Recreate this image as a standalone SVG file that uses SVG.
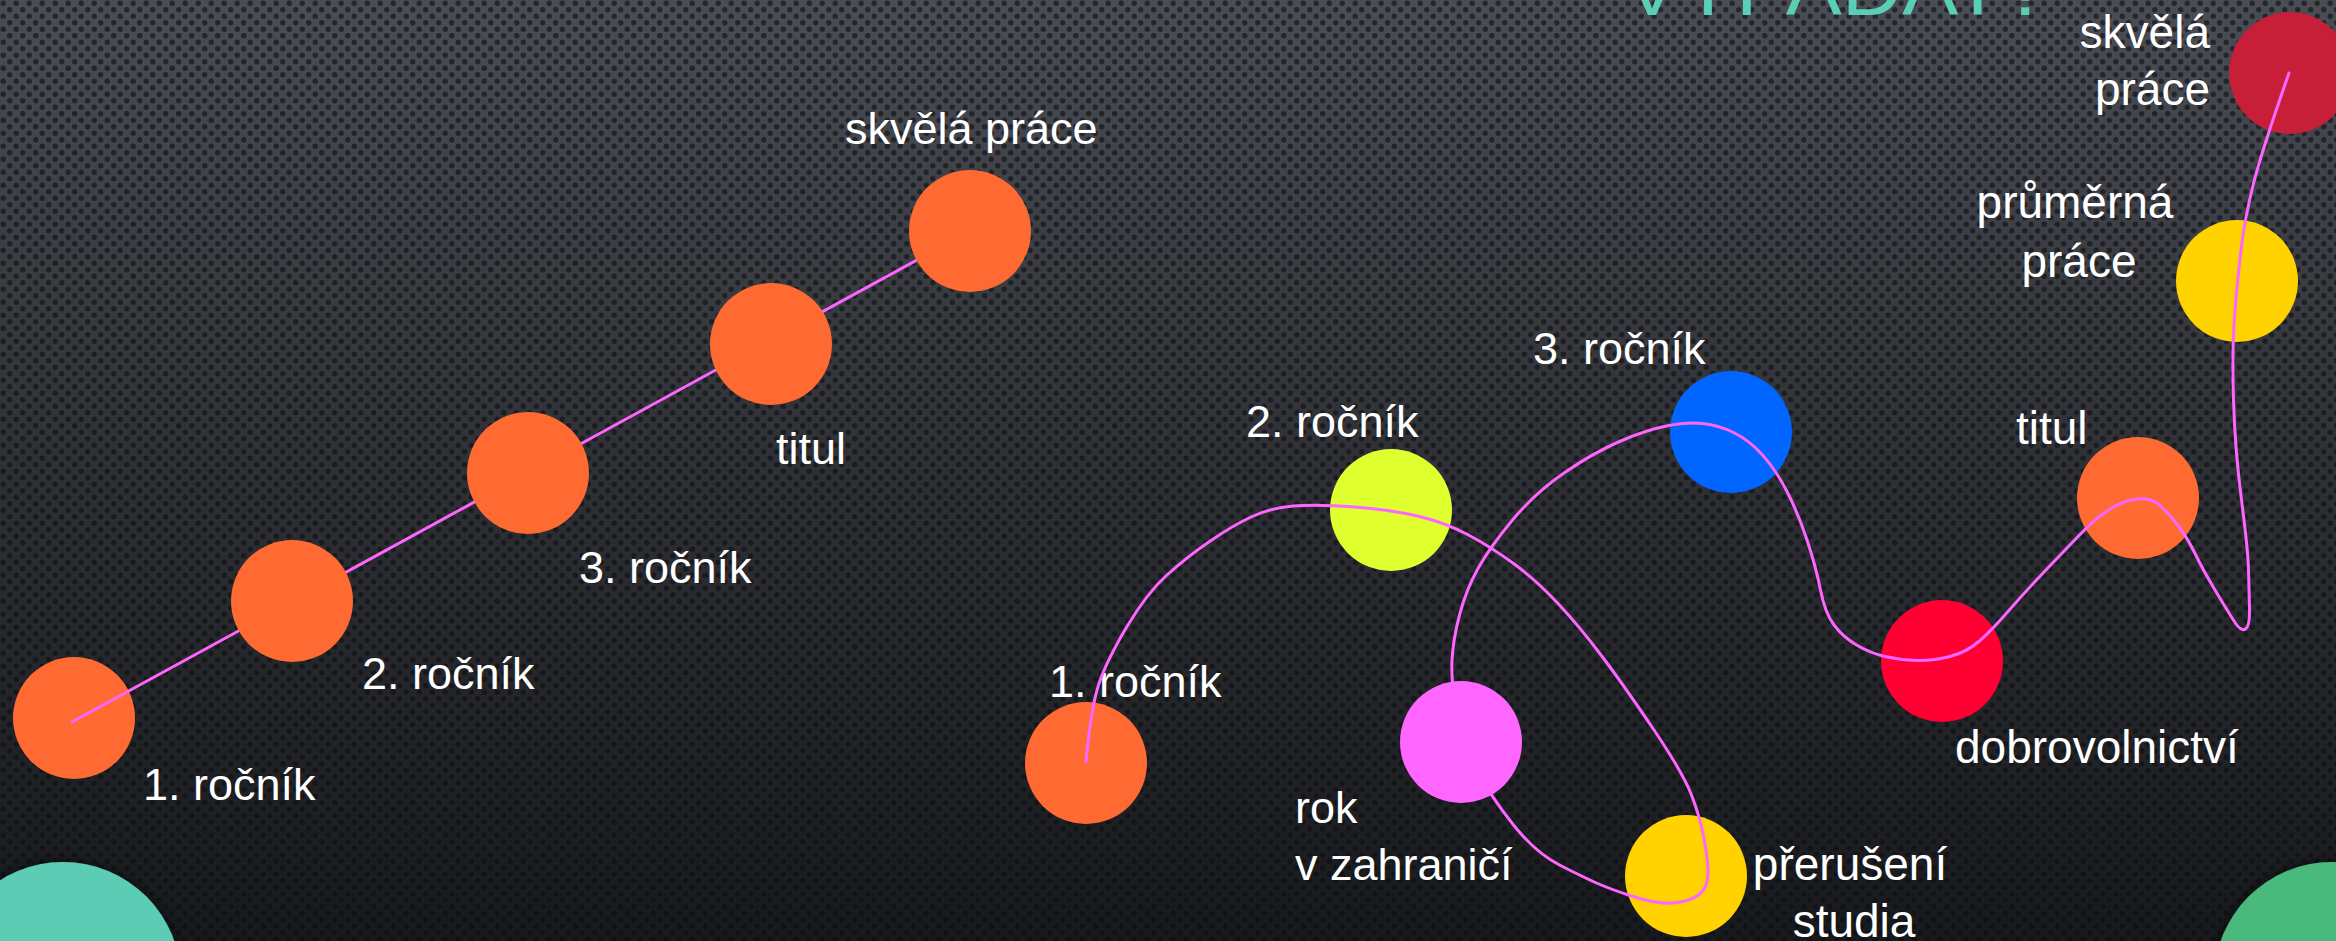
<svg xmlns="http://www.w3.org/2000/svg" width="2336" height="941" viewBox="0 0 2336 941">
  <defs>
    <linearGradient id="bg" x1="0" y1="0" x2="0" y2="1">
      <stop offset="0" stop-color="#4a4d54"/>
      <stop offset="0.5" stop-color="#2e3035"/>
      <stop offset="1" stop-color="#17191c"/>
    </linearGradient>
    <pattern id="dots" patternUnits="userSpaceOnUse" width="13" height="13">
      <circle cx="3.25" cy="3.25" r="2.7" fill="#0b0d10" fill-opacity="0.6"/>
      <circle cx="9.75" cy="9.75" r="2.7" fill="#0b0d10" fill-opacity="0.6"/>
    </pattern>
    <filter id="shadow" x="-30%" y="-30%" width="160%" height="160%">
      <feDropShadow dx="0" dy="0" stdDeviation="6" flood-color="#000" flood-opacity="0.75"/>
    </filter>
  </defs>
  <style>
    .lbl { font-family: "Liberation Sans", Arial, sans-serif; font-size: 46px; fill: #ffffff; }
    .lbl-s { font-family: "Liberation Sans", Arial, sans-serif; font-size: 45px; fill: #ffffff; }
    .conn { fill: none; stroke: #ff66ff; stroke-width: 3; stroke-linejoin: round; stroke-linecap: round; }
    .orange { fill: #ff6a33; }
  </style>

  <rect width="2336" height="941" fill="url(#bg)"/>
  <rect width="2336" height="941" fill="url(#dots)"/>

  <text x="1624" y="15" font-family="Liberation Sans, Arial, sans-serif" font-size="78" fill="#5bcfb5" textLength="426" lengthAdjust="spacingAndGlyphs">VYPADAT?</text>

  <circle id="deco-teal" cx="63" cy="980" r="118" fill="#5bcdb4" filter="url(#shadow)"/>
  <circle id="deco-green" cx="2332" cy="980" r="118" fill="#48ba7c" filter="url(#shadow)"/>

  <!-- left chain, first node -->
  <g id="l-rocnik1">
    <circle class="orange" cx="74" cy="718" r="61"/>
    <text class="lbl-s" x="143" y="800">1. ročník</text>
  </g>

  <!-- right side nodes (below connector) -->
  <g id="r-rocnik1">
    <circle class="orange" cx="1086" cy="763" r="61"/>
    <text class="lbl-s" x="1049" y="697">1. ročník</text>
  </g>
  <g id="r-rocnik2">
    <circle cx="1391" cy="510" r="61" fill="#e0ff2e"/>
    <text class="lbl-s" x="1246" y="437">2. ročník</text>
  </g>
  <g id="r-preruseni">
    <circle cx="1686" cy="876" r="61" fill="#ffd200"/>
    <text class="lbl" x="1850" y="880" text-anchor="middle">přerušení</text>
    <text class="lbl" x="1854" y="937" text-anchor="middle">studia</text>
  </g>
  <g id="r-rocnik3">
    <circle cx="1731" cy="432" r="61" fill="#0066ff"/>
    <text class="lbl-s" x="1533" y="364">3. ročník</text>
  </g>
  <g id="r-dobrovolnictvi">
    <circle cx="1942" cy="661" r="61" fill="#ff0033"/>
    <text class="lbl" x="1955" y="763">dobrovolnictví</text>
  </g>
  <g id="r-titul">
    <circle class="orange" cx="2138" cy="498" r="61"/>
    <text class="lbl" x="2016" y="444">titul</text>
  </g>
  <g id="r-prumerna">
    <circle cx="2237" cy="281" r="61" fill="#ffd300"/>
    <text class="lbl" x="2075" y="218" text-anchor="middle">průměrná</text>
    <text class="lbl" x="2079" y="277" text-anchor="middle">práce</text>
  </g>
  <g id="r-skvela">
    <circle cx="2290" cy="73" r="61" fill="#c71f37"/>
    <text class="lbl" x="2210" y="48" text-anchor="end">skvělá</text>
    <text class="lbl" x="2210" y="105" text-anchor="end">práce</text>
  </g>

  <g id="connectors">
    <path class="conn" d="M72 722 L970 231"/>
    <path class="conn" d="M1086 762 Q1091 707 1099 683.5 Q1107 660 1127 626.5 Q1147 593 1167 575 Q1187 557 1209.5 541.5 Q1232 526 1251 517 Q1270 508 1293.5 506 Q1317 504 1355 507 Q1393 510 1419.5 516.5 Q1446 523 1468.5 535 Q1491 547 1513.5 563.5 Q1536 580 1558 603.5 Q1580 627 1602.5 657 Q1625 687 1654 730 Q1683 773 1691.5 795 Q1700 817 1704 838.5 Q1708 860 1708 872 Q1708 884 1703 890.5 Q1698 897 1687 900.5 Q1676 904 1663 903 Q1650 902 1630 895.5 Q1610 889 1596.5 883 Q1583 877 1559.5 865 Q1536 853 1513.5 825 Q1491 797 1476 768.5 Q1461 740 1456 710.5 Q1451 681 1452 660.5 Q1453 640 1459.5 615 Q1466 590 1478 568.5 Q1490 547 1512.5 520 Q1535 493 1564 473 Q1593 453 1619.5 441.5 Q1646 430 1666.5 426 Q1687 422 1702.5 423.5 Q1718 425 1733.5 432.5 Q1749 440 1762.5 455 Q1776 470 1787 491.5 Q1798 513 1807 540 Q1816 567 1820.5 590 Q1825 613 1834 625 Q1843 637 1856.5 645 Q1870 653 1885 656.5 Q1900 660 1916.5 660.5 Q1933 661 1950 656.5 Q1967 652 1979.5 641 Q1992 630 2008 611.5 Q2024 593 2044.5 571.5 Q2065 550 2081 533.5 Q2097 517 2111 508.5 Q2125 500 2137.5 499 Q2150 498 2158 504 Q2166 510 2176.5 523.5 Q2187 537 2195 553.5 Q2203 570 2215 590 Q2227 610 2234 621 Q2241 632 2245.5 629 Q2250 626 2249.5 608 Q2249 590 2248.5 570 Q2248 550 2241.5 500 Q2235 450 2233.5 400 Q2232 350 2234.5 316.5 Q2237 283 2241 250 Q2245 217 2253.5 183.5 Q2262 150 2289 73"/>
  </g>

  <!-- nodes drawn above connector -->
  <g id="l-rocnik2">
    <circle class="orange" cx="292" cy="601" r="61"/>
    <text class="lbl-s" x="362" y="689">2. ročník</text>
  </g>
  <g id="l-rocnik3">
    <circle class="orange" cx="528" cy="473" r="61"/>
    <text class="lbl-s" x="579" y="583">3. ročník</text>
  </g>
  <g id="l-titul">
    <circle class="orange" cx="771" cy="344" r="61"/>
    <text class="lbl-s" x="776" y="464">titul</text>
  </g>
  <g id="l-skvela">
    <circle class="orange" cx="970" cy="231" r="61"/>
    <text class="lbl-s" x="845" y="144">skvělá práce</text>
  </g>
  <g id="r-rok-zahranici">
    <circle cx="1461" cy="742" r="61" fill="#ff66ff"/>
    <text class="lbl-s" x="1295" y="823">rok</text>
    <text class="lbl-s" x="1295" y="880">v zahraničí</text>
  </g>
</svg>
